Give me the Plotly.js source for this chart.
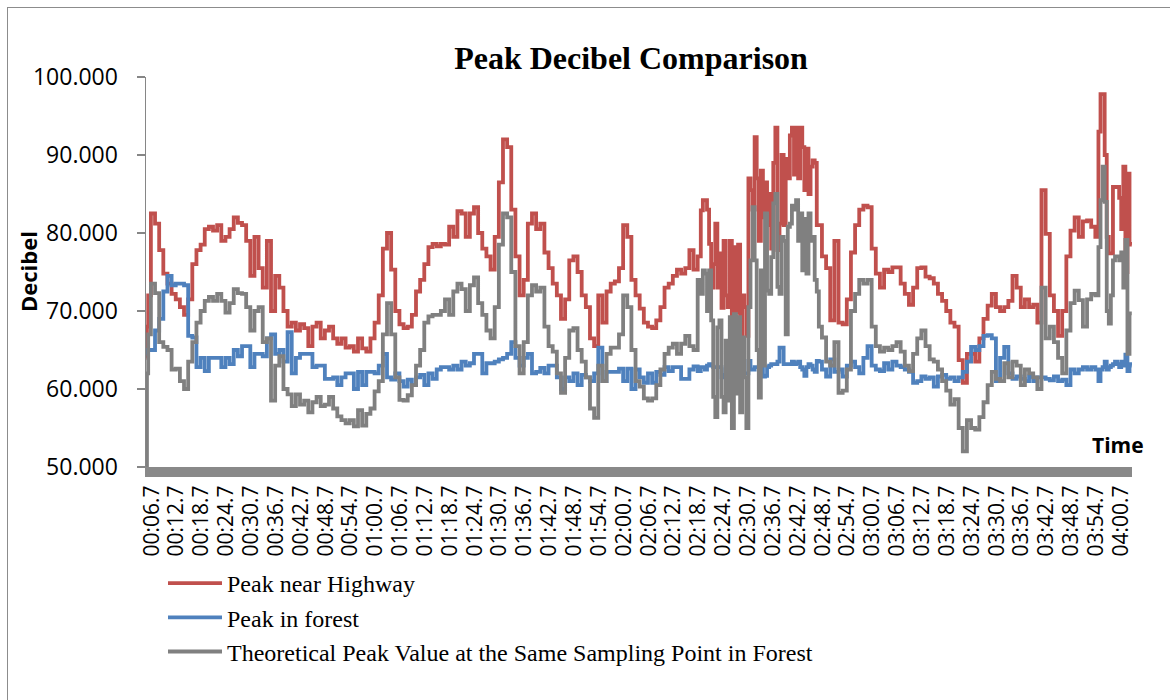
<!DOCTYPE html>
<html>
<head>
<meta charset="utf-8">
<script src="https://cdn.plot.ly/plotly-3.0.1.min.js"></script>
<style>
html,body{margin:0;padding:0;background:#fff;width:1170px;height:700px;overflow:hidden;}
#chart{position:absolute;left:0;top:0;width:1170px;height:700px;}
#frame{position:absolute;left:7px;top:7px;width:1200px;height:720px;border-left:1.5px solid #8c8c8c;border-top:1.5px solid #8c8c8c;pointer-events:none;}
</style>
</head>
<body>
<div id="chart"></div>
<div id="frame"></div>
<script>
// sample times in seconds
const timeSec = [
  5.4, 5.7,
  6,7,8,9,10,11,12,13,14,15,
  16,17,18,19,20,21,22,23,24,25,
  26,27,28,29,30,31,32,33,34,35,
  36,37,38,39,40,41,42,43,44,45,
  46,47,48,49,50,51,52,53,54,55,
  56,57,58,59,60,61,62,63,64,65,
  66,67,68,69,70,71,72,73,74,75,
  76,77,78,79,80,81,82,83,84,85,
  86,87,88,89,90,91,92,93,94,95,
  96,97,98,99,100,101,102,103,104,105,
  106,107,108,109,110,111,112,113,114,115,
  116,117,118,119,120,121,122,123,124,125,
  126,127,128,129,130,131,132,133,134,135,
  136,137,138,
  139,139.5,140,140.5,141,141.5,142,142.5,143,143.5,
  144,144.5,145,145.5,146,146.5,147,147.5,148,148.5,
  149,149.5,150,150.5,151,151.5,152,152.5,153,153.5,
  154,154.5,155,155.5,156,156.5,157,157.5,158,158.5,
  159,159.5,160,160.5,161,161.5,162,162.5,163,163.5,
  164,164.5,165,165.5,166,166.5,167,167.5,168,
  169,170,171,172,173,174,175,176,177,178,
  179,180,181,182,183,184,185,186,187,188,
  189,190,191,192,193,194,195,196,197,198,
  199,200,201,202,203,204,205,206,207,208,
  209,210,211,212,213,214,215,216,217,218,
  219,220,221,222,223,224,225,226,227,228,
  229,230,231,232,233,234,
  235,235.5,236,236.5,237,237.5,238,238.5,239,239.5,240,240.5,241,241.5,242,242.5,243,
  243.3
];

const peakHighway = [
  64, 68,
  72, 82.5, 81.2, 77.8, 74.8, 73.5, 72.2, 71.5, 70.5, 69.5,
  71.5, 76, 77.8, 78.5, 80.5, 80.8, 80.3, 81, 79, 79.5,
  80.5, 82, 81.3, 81, 79, 74.5, 79.5, 75.5, 73, 79,
  70, 74.5, 73, 70, 68, 68.5, 67.5, 68.3, 67.8, 65.5,
  68, 68.5, 66.5, 67.5, 68, 66.5, 65.8, 66.5, 65.3, 65.5,
  64.8, 66.5, 65.2, 64.8, 66.5, 68.5, 72, 78, 80, 75.3,
  70, 68.3, 67.8, 68, 69.5, 72.5, 74, 76, 78.2, 78.6,
  78.3, 78.6, 78.5, 80.8, 79.5, 82.8, 82.5, 79.5, 82.5, 83.3,
  80, 78, 77, 75.3, 79.5, 86.5, 92, 91, 83, 77,
  72, 74, 81.2, 82.5, 80.5, 81.2, 77.5, 75.5, 73.5, 72,
  69, 71.5, 76.5, 77, 75, 72, 70.5, 66.5, 65.5, 72,
  68.5, 72.5, 73.5, 73.8, 75.5, 81, 79.5, 74, 72, 70.3,
  68.5, 68, 67.8, 68.8, 70.5, 73, 73.5, 74.5, 75.3, 74.8,
  75.5, 77.8, 75.3,
  77, 82.9, 84.2, 84.2, 83, 78.6, 73, 76, 81.2, 73,
  77.4, 70.4, 79, 72, 70.5, 79, 69.5, 78.2, 69.8, 78.5,
  66.5, 72, 70.5, 66.8, 87, 85.5, 83, 92.3, 87, 79,
  88, 82, 86.5, 81, 85, 78, 89, 93.5, 77.8, 81.2,
  90, 81, 89.5, 87, 92.5, 93.5, 87.5, 93.5, 87, 93.5,
  91, 85.5, 90.8, 85, 88.5, 89.3, 89, 81, 81,
  77, 75.5, 68.8, 79, 68.5, 68.3, 71.5, 77.5, 81, 83,
  83.5, 83.3, 78, 74.8, 73, 75.3, 75, 75.6, 75.6, 73.5,
  72.2, 70.8, 73, 75.5, 75.6, 74.4, 74.2, 73.5, 72.2, 71.3,
  70, 68.5, 68, 63.7, 60.8, 64.5, 64.5, 63.5, 66.5, 69,
  70.7, 72.2, 70.5, 70, 70.5, 71.3, 74.5, 73, 70.5, 71.5,
  70.5, 70.8, 68.5, 85.5, 79.9, 72, 70, 66.8, 70, 77,
  80.3, 82, 79.5, 81.5, 81.6, 80.8,
  79.5, 93, 97.8, 97.8, 90, 79.5, 77.4, 77.4, 85.9, 85.9, 85.9, 84.5, 80.5, 88.5, 75, 87.6, 78.6,
  78.5
];

const peakForest = [
  64.5, 65,
  65, 65, 67.5, 69, 72.5, 74.5, 73.3, 73.5, 73.5, 73.3,
  66.8, 66.6, 62.8, 64, 62.3, 64, 64, 64, 62.8, 64,
  63.2, 65, 64.2, 65.5, 65.5, 62.8, 64.5, 64.5, 64.2, 66.5,
  67, 64.5, 65, 63.5, 67.3, 62, 64, 64.5, 64.5, 64.5,
  62.8, 63, 63, 61.3, 61.3, 61.5, 60.5, 61.5, 62, 62,
  60, 62.2, 60.5, 62.2, 62.2, 62, 63, 64.5, 61.5, 61.2,
  62, 61, 60.3, 61.2, 60.5, 61.5, 61.8, 60.5, 62, 61.3,
  62.5, 62.8, 62.8, 62.5, 63, 62.5, 63.5, 63, 63.3, 64.5,
  64.5, 62, 63.3, 63.3, 63.5, 63.8, 64, 64.5, 66, 64,
  63, 64, 64.5, 62, 62.2, 62.7, 62, 63, 63, 61.5,
  60, 61.5, 61, 62, 60.5, 61.8, 61.5, 61, 62, 65.3,
  61, 62.2, 62.2, 62.2, 62.6, 61, 62.6, 60, 62.5, 61.5,
  60.8, 62, 60.8, 62.2, 61.8, 62.8, 62.3, 62.8, 62.8, 61.3,
  61.3, 62.5, 62.9,
  62.3, 62.8, 62.8, 62.5, 63, 63.2, 63, 62.8, 62.8, 62.8,
  62.8, 61.5, 61.8, 62.5, 62.5, 62.8, 62.5, 62.8, 62.8, 62.1,
  62, 62, 62, 62, 63.6, 62.5, 62.5, 62.8, 62.8, 62.8,
  62.6, 61.6, 61.7, 62.8, 63, 63.2, 63.2, 63.2, 63.5, 65.3,
  65.3, 63.2, 63.2, 63.2, 63.2, 63.5, 63.2, 63.3, 63.5, 62.8,
  62.5, 61.7, 62.8, 63.2, 63, 62.5, 62.2, 63.6, 63.5,
  62.5, 61.6, 63.8, 62.2, 62.5, 61.6, 63, 63.5, 62.8, 62,
  64, 65.5, 63, 62.5, 62.3, 63.3, 62.5, 63.5, 63, 62.8,
  62.5, 62.2, 60.8, 61, 61.6, 61.3, 61.5, 60.3, 61.6, 61.8,
  61.3, 61.5, 61, 61.5, 62.2, 63.5, 65.4, 65, 65.5, 66.8,
  66.9, 66.5, 61, 64, 65.4, 62, 61.3, 61.6, 61.3, 61,
  61.6, 61, 61.5, 61.5, 61.3, 61.1, 61.6, 61, 61.2, 60.5,
  62.5, 62, 62.5, 62.8, 62.5, 62.8,
  62.5, 61, 62.5, 62.8, 63.5, 62.5, 62.8, 63, 63.2, 63.5, 63.2, 62.8, 63.5, 63, 64.4, 62.3, 63.2,
  63
];

const theoreticalForest = [
  50, 62,
  67, 73.5, 72.3, 66, 65.4, 65, 62.5, 62.6, 61, 60,
  63.5, 66, 68.5, 70, 71.3, 71.8, 71.3, 72.2, 71.3, 69.8,
  71, 72.8, 72.3, 72.2, 70.5, 67.5, 70, 70.5, 66, 66.5,
  58.5, 63, 64.2, 60, 59.3, 57.8, 59.3, 58, 58.5, 57,
  58.3, 59, 57.8, 58, 59, 57.5, 56.5, 56, 55.6, 56,
  55.2, 57.3, 55.3, 56.8, 57.5, 59.7, 61, 67, 71, 67,
  61.5, 58.6, 58.5, 59.2, 60.5, 63, 65, 68.5, 69.3, 69.5,
  69.5, 70, 71.5, 69.5, 72.5, 73.5, 72.8, 70, 73.3, 74.3,
  71, 69.5, 67.5, 66.5, 70.5, 78.5, 82.5, 82, 75, 65.5,
  62, 66, 72, 73.3, 72.5, 73, 68, 65.5, 64.8, 62,
  59.5, 64, 67.5, 67.8, 65, 63.5, 61.5, 57.5, 56.3, 63,
  61, 64.5, 65.3, 65.3, 67, 72, 70.5, 65, 61, 60.3,
  58.8, 58.5, 58.8, 60.5, 62.5, 64.5, 65.3, 65.8, 64.5, 65.8,
  66.8, 65.5, 65,
  74, 72.2, 75.2, 74.8, 70, 75.2, 68.8, 59, 56.4, 67.9,
  68.8, 59, 57, 66.2, 58.5, 69.2, 55, 69.6, 59.4, 69.2,
  57, 66.6, 61.5, 55, 70.5, 76.5, 83.3, 76.5, 65, 58.9,
  75.2, 63, 82.5, 72.6, 72.2, 76.9, 83.8, 85, 73.1, 72.2,
  79.5, 79, 67, 80.8, 81.2, 83.5, 83, 84.2, 79, 82.5,
  75.2, 81.8, 74.8, 82.5, 79, 79.5, 74, 72.5, 68,
  66.6, 63.5, 63, 66, 59.5, 59.8, 62.5, 70, 72.2, 74,
  73.5, 74, 68, 65.5, 64.8, 65.3, 65, 65.5, 66, 64.8,
  63, 62.3, 64.5, 66.5, 67.5, 65.5, 63.8, 63.5, 62.5, 61,
  59.8, 58, 58.7, 55, 52, 56, 55, 54.8, 56.4, 58.3,
  60.5, 62.2, 61.3, 61, 63.3, 61.5, 63.5, 63, 60.5, 62.5,
  62, 61.5, 60, 73, 66.5, 68, 66, 64, 62, 67.5,
  71, 72.6, 71.4, 68, 71.5, 72.2,
  72, 78.2, 84.2, 88.5, 84, 70, 68.4, 72, 76.5, 77, 77, 76.5, 77.5, 73, 79.1, 64.5, 69.7,
  69.7
];

const seriesNames = ['Peak near Highway', 'Peak in forest', 'Theoretical Peak Value at the Same Sampling Point in Forest'];
const seriesColors = ['#C0504D', '#4F81BD', '#808080'];

const timeLabels = ['00:06.7','00:12.7','00:18.7','00:24.7','00:30.7','00:36.7','00:42.7','00:48.7','00:54.7','01:00.7',
  '01:06.7','01:12.7','01:18.7','01:24.7','01:30.7','01:36.7','01:42.7','01:48.7','01:54.7','02:00.7',
  '02:06.7','02:12.7','02:18.7','02:24.7','02:30.7','02:36.7','02:42.7','02:48.7','02:54.7','03:00.7',
  '03:06.7','03:12.7','03:18.7','03:24.7','03:30.7','03:36.7','03:42.7','03:48.7','03:54.7','04:00.7'];
const yTicks = [50, 60, 70, 80, 90, 100];

const tickSeconds = timeLabels.map(function (s) {
  const p = s.split(':');
  return parseInt(p[0], 10) * 60 + parseFloat(p[1]);
});

const values = [peakHighway, peakForest, theoreticalForest];
const traces = values.map(function (v, i) {
  return {
    type: 'scatter', mode: 'lines',
    x: timeSec, y: v,
    name: seriesNames[i],
    line: {color: seriesColors[i], width: 3.8, shape: 'hvh'},
    hoverinfo: 'skip'
  };
});

const PL = 146, PR = 1132, PT = 77, PB = 467;
const pw = PR - PL, ph = PB - PT;
function px2x(p) { return (p - PL) / pw; }
function py2y(p) { return (PB - p) / ph; }

const layout = {
  width: 1170, height: 700,
  margin: {l: PL, r: 1170 - PR, t: PT, b: 700 - PB, pad: 0},
  paper_bgcolor: 'rgba(0,0,0,0)', plot_bgcolor: 'rgba(0,0,0,0)',
  showlegend: true,
  title: {
    text: 'Peak Decibel Comparison',
    font: {family: 'Liberation Serif, Times New Roman, serif', size: 32, color: '#000', weight: 'bold'},
    x: 631 / 1170, xanchor: 'center', xref: 'container',
    y: 1 - 58 / 700, yref: 'container', yanchor: 'middle'
  },
  xaxis: {
    range: [5.32, 243.35],
    tickmode: 'array', tickvals: tickSeconds, ticktext: timeLabels,
    tickangle: -90,
    showline: true, linewidth: 10, linecolor: '#898989',
    ticks: '', showgrid: false, zeroline: false,
    tickfont: {family: 'Open Sans, sans-serif', size: 21, color: '#000'}
  },
  yaxis: {
    range: [50, 100],
    tickmode: 'array', tickvals: yTicks, tickformat: '.3f',
    ticks: 'outside', ticklen: 8, tickwidth: 1.5, tickcolor: '#868686',
    showline: true, linewidth: 1.5, linecolor: '#868686',
    showgrid: false, zeroline: false,
    ticklabelstandoff: 14,
    tickfont: {family: 'Open Sans, sans-serif', size: 23, color: '#000'}
  },
  legend: {
    x: px2x(163), xanchor: 'left', xref: 'paper',
    y: py2y(561), yanchor: 'top', yref: 'paper',
    orientation: 'v',
    itemwidth: 54,
    bgcolor: 'rgba(0,0,0,0)',
    font: {family: 'Liberation Serif, Times New Roman, serif', size: 24, color: '#000'}
  },
  annotations: [
    {text: 'Decibel', xref: 'paper', yref: 'paper', x: px2x(28), y: 0.5, textangle: -90,
     showarrow: false, xanchor: 'center', yanchor: 'middle',
     font: {family: 'Open Sans, sans-serif', size: 22, color: '#000', weight: 'bold'}},
    {text: 'Time', xref: 'paper', yref: 'paper', x: px2x(1118), y: py2y(445),
     showarrow: false, xanchor: 'center', yanchor: 'middle',
     font: {family: 'Open Sans, sans-serif', size: 21, color: '#000', weight: 'bold'}}
  ]
};

Plotly.newPlot('chart', traces, layout, {staticPlot: true, displayModeBar: false});
</script>
</body>
</html>
